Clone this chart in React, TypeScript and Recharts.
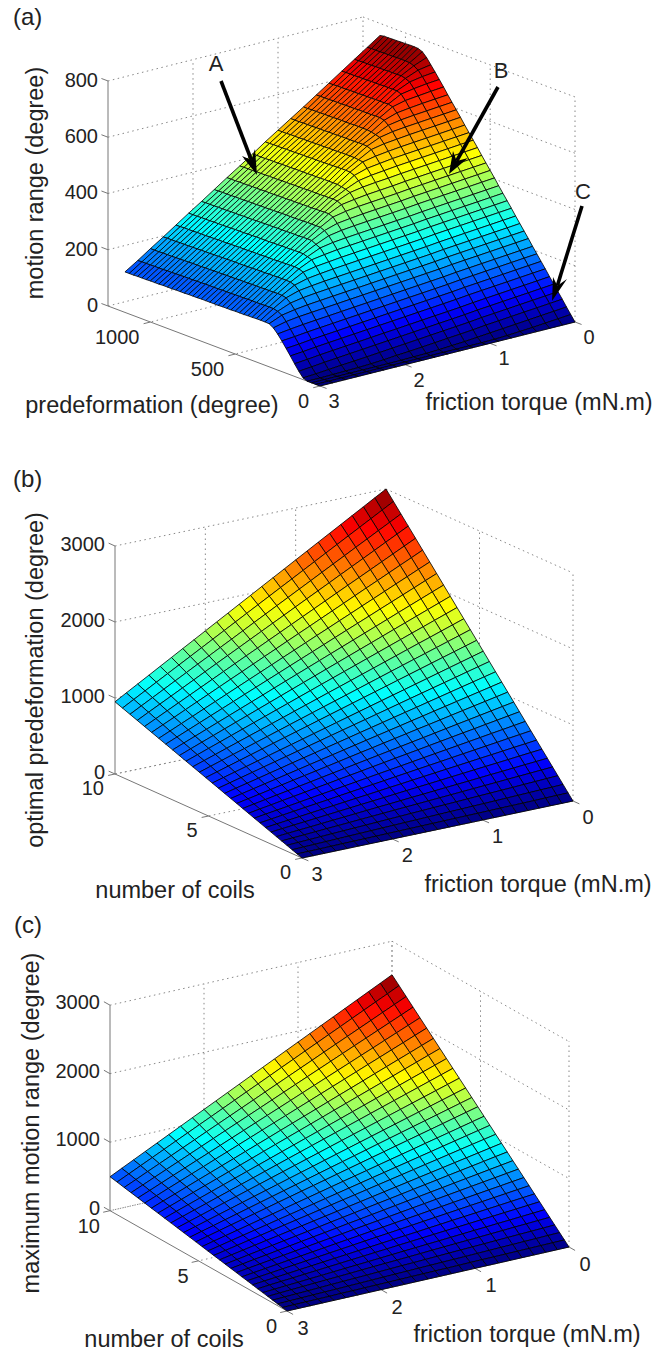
import { ReferenceLine, Scatter, ScatterChart, XAxis, YAxis } from 'recharts'

const torqueA = [0, 0.15, 0.3, 0.45, 0.6, 0.75, 0.9, 1.05, 1.2, 1.35, 1.5, 1.65, 1.8, 1.95, 2.1, 2.25, 2.4, 2.55, 2.7, 2.85, 3]
const predefA = [0, 25, 50, 75, 100, 125, 150, 175, 200, 225, 250, 275, 300, 325, 350, 375, 400, 425, 450, 475, 500, 525, 550, 575, 600, 625, 650, 675, 700, 725, 750, 775, 800, 825, 850, 875, 900, 925, 950, 975, 1000, 1025, 1050, 1075, 1100, 1125, 1150]
// one row per predeformation, one column per friction torque
const rangeA = [
  [0, 0, 0, 0, 0, 0, 0, 0, 0, 0, 0, 0, 0, 0, 0, 0, 0, 0, 0, 0, 0],
  [21, 17, 13, 9, 6, 3, 1, 0, 0, 0, 0, 0, 0, 0, 0, 0, 0, 0, 0, 0, 0],
  [42, 38, 34, 30, 26, 22, 18, 14, 10, 7, 4, 2, 1, 0, 0, 0, 0, 0, 0, 0, 0],
  [64, 60, 56, 52, 48, 44, 40, 35, 31, 27, 23, 19, 15, 12, 8, 5, 3, 2, 1, 0, 0],
  [85, 81, 77, 73, 69, 65, 61, 56, 52, 48, 44, 40, 36, 32, 28, 24, 20, 17, 13, 9, 6],
  [106, 102, 98, 94, 90, 86, 82, 77, 73, 69, 65, 61, 57, 53, 49, 45, 41, 37, 33, 28, 24],
  [127, 123, 119, 115, 111, 107, 103, 98, 94, 90, 86, 82, 78, 74, 70, 66, 62, 58, 54, 49, 45],
  [149, 145, 141, 137, 133, 129, 125, 120, 116, 112, 108, 104, 100, 96, 92, 88, 84, 80, 76, 71, 67],
  [170, 166, 162, 158, 154, 150, 146, 141, 137, 133, 129, 125, 121, 117, 113, 109, 105, 101, 97, 92, 88],
  [191, 187, 183, 179, 175, 171, 167, 162, 158, 154, 150, 146, 142, 138, 134, 130, 126, 122, 118, 113, 109],
  [212, 208, 204, 200, 196, 192, 188, 183, 179, 175, 171, 167, 163, 159, 155, 151, 147, 143, 139, 134, 128],
  [234, 230, 226, 222, 218, 214, 210, 205, 201, 197, 193, 189, 185, 181, 177, 173, 169, 165, 161, 155, 144],
  [255, 251, 247, 243, 239, 235, 231, 226, 222, 218, 214, 210, 206, 202, 198, 194, 190, 186, 180, 172, 153],
  [276, 272, 268, 264, 260, 256, 252, 247, 243, 239, 235, 231, 227, 223, 219, 215, 211, 206, 198, 180, 154],
  [297, 293, 289, 285, 281, 277, 273, 268, 264, 260, 256, 252, 248, 244, 240, 236, 231, 225, 211, 184, 154],
  [319, 315, 311, 307, 303, 299, 295, 290, 286, 282, 278, 274, 270, 266, 262, 257, 251, 239, 214, 184, 154],
  [340, 336, 332, 328, 324, 320, 316, 311, 307, 303, 299, 295, 291, 287, 282, 277, 268, 244, 215, 184, 153],
  [361, 357, 353, 349, 345, 341, 337, 332, 328, 324, 320, 316, 312, 308, 302, 295, 274, 245, 214, 183, 153],
  [382, 378, 374, 370, 366, 362, 358, 353, 349, 345, 341, 337, 333, 328, 320, 300, 276, 245, 214, 183, 152],
  [404, 400, 396, 392, 388, 384, 380, 375, 371, 367, 363, 359, 354, 346, 327, 305, 275, 245, 214, 183, 152],
  [425, 421, 417, 413, 409, 405, 401, 396, 392, 388, 384, 379, 373, 359, 335, 305, 275, 244, 213, 183, 152],
  [446, 442, 438, 434, 430, 426, 422, 417, 413, 409, 405, 399, 390, 365, 335, 305, 274, 244, 213, 182, 151],
  [467, 463, 459, 455, 451, 447, 443, 438, 434, 430, 424, 417, 396, 365, 335, 304, 274, 243, 213, 182, 151],
  [489, 485, 481, 477, 473, 469, 465, 460, 456, 451, 443, 424, 396, 365, 334, 304, 273, 243, 212, 182, 151],
  [510, 506, 502, 498, 494, 490, 486, 481, 476, 468, 449, 426, 395, 365, 334, 304, 273, 243, 212, 181, 150],
  [531, 527, 523, 519, 515, 511, 507, 501, 495, 481, 452, 425, 395, 364, 334, 303, 273, 242, 212, 181, 150],
  [552, 548, 544, 540, 536, 532, 527, 521, 512, 487, 455, 425, 394, 364, 333, 303, 272, 242, 211, 181, 150],
  [574, 570, 566, 562, 558, 553, 548, 539, 514, 488, 455, 424, 394, 363, 333, 302, 272, 241, 211, 180, 150],
  [595, 591, 587, 583, 579, 574, 565, 545, 516, 488, 455, 424, 394, 363, 333, 302, 272, 241, 211, 180, 150],
  [616, 612, 608, 604, 599, 591, 569, 546, 516, 487, 455, 424, 393, 363, 332, 302, 271, 241, 210, 180, 149],
  [637, 633, 629, 624, 618, 603, 573, 546, 516, 487, 454, 424, 393, 363, 332, 302, 271, 241, 210, 180, 149],
  [659, 655, 650, 645, 634, 607, 575, 545, 516, 486, 454, 423, 393, 362, 332, 301, 271, 240, 210, 179, 149],
  [680, 676, 670, 662, 638, 607, 575, 545, 515, 486, 454, 423, 392, 362, 331, 301, 270, 240, 209, 179, 148],
  [701, 696, 688, 668, 637, 606, 575, 545, 515, 485, 453, 423, 392, 361, 331, 300, 270, 239, 209, 178, 148],
  [721, 713, 695, 668, 637, 606, 575, 545, 515, 485, 453, 422, 392, 361, 330, 300, 269, 239, 208, 178, 148],
  [741, 723, 699, 668, 637, 606, 574, 544, 514, 485, 453, 422, 391, 361, 330, 300, 269, 238, 208, 178, 147],
  [756, 728, 698, 668, 636, 606, 574, 544, 514, 484, 453, 422, 391, 360, 330, 299, 269, 238, 208, 177, 147],
  [762, 729, 698, 667, 636, 605, 574, 544, 514, 484, 452, 421, 391, 360, 329, 299, 268, 238, 207, 177, 147],
  [763, 729, 698, 667, 636, 605, 574, 543, 513, 484, 452, 421, 390, 360, 329, 298, 268, 237, 207, 176, 146],
  [763, 729, 697, 667, 635, 605, 573, 543, 513, 483, 452, 421, 390, 359, 329, 298, 267, 237, 206, 176, 146],
  [762, 728, 697, 666, 635, 604, 573, 543, 513, 483, 451, 420, 390, 359, 328, 298, 267, 236, 206, 175, 146],
  [762, 728, 697, 666, 635, 604, 573, 542, 512, 483, 451, 420, 389, 359, 328, 297, 267, 236, 205, 175, 145],
  [761, 728, 696, 666, 634, 604, 572, 542, 512, 482, 451, 420, 389, 358, 328, 297, 266, 236, 205, 175, 145],
  [761, 727, 696, 665, 634, 603, 572, 542, 512, 482, 450, 419, 389, 358, 327, 297, 266, 235, 205, 174, 145],
  [760, 727, 696, 665, 634, 603, 572, 541, 511, 482, 450, 419, 388, 358, 327, 296, 266, 235, 204, 174, 144],
  [760, 727, 695, 665, 633, 603, 571, 541, 511, 481, 450, 419, 388, 357, 327, 296, 265, 235, 204, 174, 144],
  [757, 726, 695, 664, 633, 602, 571, 541, 511, 481, 449, 418, 388, 357, 326, 296, 265, 234, 204, 173, 144],
]

const torqueBC = [0, 0.125, 0.25, 0.375, 0.5, 0.625, 0.75, 0.875, 1, 1.125, 1.25, 1.375, 1.5, 1.625, 1.75, 1.875, 2, 2.125, 2.25, 2.375, 2.5, 2.625, 2.75, 2.875, 3]
const coilsBC = [0, 0.26, 0.53, 0.81, 1.09, 1.37, 1.66, 1.95, 2.25, 2.55, 2.86, 3.17, 3.49, 3.81, 4.14, 4.47, 4.8, 5.15, 5.49, 5.84, 6.2, 6.56, 6.92, 7.29, 7.66, 8.04, 8.42, 8.81, 9.2, 9.6, 10]
const optimalB = [
  [0, 0, 0, 0, 0, 0, 0, 0, 0, 0, 0, 0, 0, 0, 0, 0, 0, 0, 0, 0, 0, 0, 0, 0, 0],
  [78, 76, 74, 71, 69, 67, 65, 62, 60, 58, 56, 54, 51, 49, 47, 45, 43, 40, 38, 36, 34, 32, 29, 27, 25],
  [159, 154, 150, 145, 141, 136, 132, 127, 123, 118, 114, 109, 105, 100, 96, 91, 87, 82, 78, 73, 68, 64, 59, 55, 50],
  [243, 236, 229, 222, 215, 208, 201, 195, 188, 181, 174, 167, 160, 153, 146, 139, 132, 125, 118, 112, 105, 98, 91, 84, 77],
  [327, 318, 308, 299, 290, 280, 271, 262, 253, 243, 234, 225, 215, 206, 197, 187, 178, 169, 159, 150, 141, 131, 122, 113, 104],
  [411, 399, 388, 376, 364, 353, 341, 329, 317, 306, 294, 282, 271, 259, 247, 236, 224, 212, 200, 189, 177, 165, 154, 142, 130],
  [498, 484, 470, 455, 441, 427, 413, 399, 385, 370, 356, 342, 328, 314, 299, 285, 271, 257, 243, 229, 214, 200, 186, 172, 158],
  [585, 568, 552, 535, 518, 502, 485, 468, 452, 435, 419, 402, 385, 369, 352, 335, 319, 302, 285, 269, 252, 235, 219, 202, 185],
  [675, 656, 637, 617, 598, 579, 560, 541, 521, 502, 483, 464, 445, 425, 406, 387, 368, 349, 329, 310, 291, 272, 253, 233, 214],
  [765, 743, 721, 700, 678, 656, 634, 612, 591, 569, 547, 525, 503, 482, 460, 438, 416, 394, 373, 351, 329, 307, 285, 264, 242],
  [858, 834, 809, 785, 760, 736, 712, 687, 663, 638, 614, 590, 565, 541, 516, 492, 468, 443, 419, 394, 370, 346, 321, 297, 272],
  [951, 924, 897, 870, 843, 816, 789, 761, 734, 707, 680, 653, 626, 599, 572, 545, 518, 491, 464, 437, 410, 383, 356, 329, 301],
  [1047, 1017, 987, 958, 928, 898, 868, 838, 809, 779, 749, 719, 689, 660, 630, 600, 570, 540, 511, 481, 451, 421, 391, 362, 332],
  [1143, 1110, 1078, 1045, 1013, 980, 948, 915, 883, 850, 818, 785, 753, 720, 687, 655, 622, 590, 557, 525, 492, 460, 427, 395, 362],
  [1242, 1207, 1171, 1136, 1101, 1065, 1030, 994, 959, 924, 888, 853, 818, 782, 747, 712, 676, 641, 606, 570, 535, 499, 464, 429, 393],
  [1341, 1303, 1265, 1226, 1188, 1150, 1112, 1074, 1036, 997, 959, 921, 883, 845, 807, 768, 730, 692, 654, 616, 578, 539, 501, 463, 425],
  [1440, 1399, 1358, 1317, 1276, 1235, 1194, 1153, 1112, 1071, 1030, 989, 948, 907, 866, 825, 784, 743, 702, 661, 620, 579, 538, 497, 456],
  [1545, 1501, 1457, 1413, 1369, 1325, 1281, 1237, 1193, 1149, 1105, 1061, 1017, 973, 929, 885, 841, 797, 753, 709, 665, 621, 577, 533, 489],
  [1647, 1600, 1553, 1506, 1459, 1413, 1366, 1319, 1272, 1225, 1178, 1131, 1084, 1038, 991, 944, 897, 850, 803, 756, 709, 663, 616, 569, 522],
  [1752, 1702, 1652, 1602, 1553, 1503, 1453, 1403, 1353, 1303, 1253, 1203, 1154, 1104, 1054, 1004, 954, 904, 854, 805, 755, 705, 655, 605, 555],
  [1860, 1807, 1754, 1701, 1648, 1595, 1542, 1489, 1436, 1383, 1330, 1278, 1225, 1172, 1119, 1066, 1013, 960, 907, 854, 801, 748, 695, 642, 589],
  [1968, 1912, 1856, 1800, 1744, 1688, 1632, 1576, 1520, 1464, 1408, 1352, 1296, 1240, 1184, 1128, 1072, 1016, 960, 904, 848, 792, 736, 680, 623],
  [2076, 2017, 1958, 1899, 1840, 1780, 1721, 1662, 1603, 1544, 1485, 1426, 1367, 1308, 1249, 1190, 1130, 1071, 1012, 953, 894, 835, 776, 717, 658],
  [2187, 2125, 2062, 2000, 1938, 1876, 1813, 1751, 1689, 1627, 1564, 1502, 1440, 1378, 1315, 1253, 1191, 1129, 1066, 1004, 942, 880, 817, 755, 693],
  [2298, 2233, 2167, 2102, 2036, 1971, 1906, 1840, 1775, 1709, 1644, 1578, 1513, 1448, 1382, 1317, 1251, 1186, 1120, 1055, 990, 924, 859, 793, 728],
  [2412, 2343, 2275, 2206, 2137, 2069, 2000, 1931, 1863, 1794, 1725, 1657, 1588, 1519, 1451, 1382, 1313, 1245, 1176, 1107, 1039, 970, 901, 833, 764],
  [2526, 2454, 2382, 2310, 2238, 2166, 2095, 2023, 1951, 1879, 1807, 1735, 1663, 1591, 1519, 1448, 1376, 1304, 1232, 1160, 1088, 1016, 944, 872, 800],
  [2643, 2568, 2493, 2417, 2342, 2267, 2192, 2116, 2041, 1966, 1891, 1815, 1740, 1665, 1590, 1514, 1439, 1364, 1289, 1213, 1138, 1063, 988, 913, 837],
  [2760, 2681, 2603, 2524, 2446, 2367, 2289, 2210, 2131, 2053, 1974, 1896, 1817, 1739, 1660, 1581, 1503, 1424, 1346, 1267, 1189, 1110, 1031, 953, 874],
  [2880, 2798, 2716, 2634, 2552, 2470, 2388, 2306, 2224, 2142, 2060, 1978, 1896, 1814, 1732, 1650, 1568, 1486, 1404, 1322, 1240, 1158, 1076, 994, 912],
  [3000, 2915, 2829, 2744, 2658, 2573, 2488, 2402, 2317, 2231, 2146, 2061, 1975, 1890, 1804, 1719, 1633, 1548, 1463, 1377, 1292, 1206, 1121, 1036, 950],
]
const maximumC = [
  [0, 0, 0, 0, 0, 0, 0, 0, 0, 0, 0, 0, 0, 0, 0, 0, 0, 0, 0, 0, 0, 0, 0, 0, 0],
  [65, 63, 61, 59, 56, 54, 52, 50, 48, 45, 43, 41, 39, 37, 34, 32, 30, 28, 26, 24, 21, 19, 17, 15, 13],
  [133, 129, 124, 120, 115, 111, 106, 102, 97, 93, 89, 84, 80, 75, 71, 66, 62, 57, 53, 48, 44, 40, 35, 31, 26],
  [203, 196, 189, 183, 176, 169, 162, 155, 149, 142, 135, 128, 121, 115, 108, 101, 94, 87, 81, 74, 67, 60, 53, 47, 40],
  [274, 265, 256, 247, 237, 228, 219, 210, 201, 192, 183, 173, 164, 155, 146, 137, 128, 118, 109, 100, 91, 82, 73, 64, 54],
  [344, 332, 321, 309, 298, 286, 275, 263, 252, 240, 229, 217, 206, 194, 183, 171, 160, 148, 137, 125, 114, 102, 91, 79, 68],
  [417, 403, 389, 375, 361, 347, 333, 319, 306, 292, 278, 264, 250, 236, 222, 208, 194, 180, 166, 152, 138, 124, 111, 97, 82],
  [489, 473, 457, 440, 424, 407, 391, 375, 358, 342, 325, 309, 293, 276, 260, 244, 227, 211, 194, 178, 162, 145, 129, 113, 97],
  [565, 546, 527, 508, 489, 471, 452, 433, 414, 395, 376, 357, 338, 320, 301, 282, 263, 244, 225, 206, 187, 168, 150, 131, 112],
  [640, 619, 597, 576, 554, 533, 512, 490, 469, 447, 426, 405, 383, 362, 340, 319, 298, 276, 255, 233, 212, 191, 169, 148, 126],
  [718, 694, 670, 646, 622, 598, 574, 550, 526, 502, 478, 454, 430, 406, 382, 358, 334, 310, 286, 262, 238, 214, 190, 166, 142],
  [796, 769, 743, 716, 690, 663, 636, 610, 583, 557, 530, 503, 477, 450, 424, 397, 370, 344, 317, 291, 264, 237, 211, 184, 157],
  [876, 847, 817, 788, 759, 730, 700, 671, 642, 612, 583, 554, 525, 495, 466, 437, 407, 378, 349, 320, 290, 261, 232, 202, 173],
  [956, 924, 892, 860, 828, 796, 764, 732, 700, 668, 636, 604, 572, 540, 508, 476, 444, 412, 381, 349, 317, 285, 253, 221, 189],
  [1039, 1004, 970, 935, 900, 865, 831, 796, 761, 726, 692, 657, 622, 588, 553, 518, 483, 449, 414, 379, 344, 310, 275, 240, 205],
  [1122, 1084, 1047, 1009, 972, 934, 897, 859, 822, 784, 747, 709, 672, 634, 597, 559, 522, 484, 447, 409, 372, 334, 297, 259, 222],
  [1205, 1165, 1124, 1084, 1044, 1004, 963, 923, 883, 843, 802, 762, 722, 682, 641, 601, 561, 520, 480, 440, 400, 359, 319, 279, 238],
  [1293, 1250, 1207, 1163, 1120, 1077, 1034, 991, 947, 904, 861, 818, 775, 731, 688, 645, 602, 559, 515, 472, 429, 386, 343, 299, 256],
  [1378, 1332, 1286, 1240, 1194, 1148, 1102, 1056, 1010, 963, 917, 871, 825, 779, 733, 687, 641, 595, 549, 503, 457, 411, 365, 319, 273],
  [1466, 1417, 1368, 1319, 1270, 1221, 1172, 1123, 1074, 1025, 976, 927, 878, 829, 780, 731, 682, 633, 584, 535, 486, 437, 388, 339, 290],
  [1556, 1504, 1452, 1400, 1348, 1296, 1244, 1192, 1140, 1088, 1036, 984, 932, 880, 828, 776, 724, 672, 620, 568, 516, 464, 412, 360, 308],
  [1647, 1592, 1537, 1482, 1427, 1372, 1317, 1262, 1207, 1152, 1097, 1042, 987, 932, 877, 822, 766, 711, 656, 601, 546, 491, 436, 381, 326],
  [1737, 1679, 1621, 1563, 1505, 1447, 1389, 1331, 1273, 1214, 1156, 1098, 1040, 982, 924, 866, 808, 750, 692, 634, 576, 518, 460, 402, 343],
  [1830, 1769, 1708, 1647, 1585, 1524, 1463, 1402, 1341, 1280, 1218, 1157, 1096, 1035, 974, 913, 851, 790, 729, 668, 607, 546, 484, 423, 362],
  [1923, 1859, 1794, 1730, 1666, 1602, 1537, 1473, 1409, 1345, 1280, 1216, 1152, 1088, 1023, 959, 895, 830, 766, 702, 638, 573, 509, 445, 380],
  [2018, 1951, 1883, 1816, 1748, 1681, 1613, 1546, 1478, 1411, 1343, 1276, 1208, 1141, 1074, 1006, 939, 871, 804, 736, 669, 601, 534, 466, 399],
  [2113, 2042, 1972, 1901, 1830, 1760, 1689, 1618, 1548, 1477, 1407, 1336, 1265, 1195, 1124, 1053, 983, 912, 841, 771, 700, 630, 559, 488, 418],
  [2211, 2137, 2063, 1989, 1915, 1842, 1768, 1694, 1620, 1546, 1472, 1398, 1324, 1250, 1176, 1102, 1029, 955, 881, 807, 733, 659, 585, 511, 437],
  [2309, 2232, 2155, 2077, 2000, 1923, 1846, 1769, 1691, 1614, 1537, 1460, 1383, 1305, 1228, 1151, 1074, 997, 919, 842, 765, 688, 611, 533, 456],
  [2410, 2329, 2249, 2168, 2088, 2007, 1927, 1846, 1766, 1685, 1605, 1524, 1443, 1363, 1282, 1202, 1121, 1041, 960, 880, 799, 718, 638, 557, 477],
  [2510, 2426, 2342, 2258, 2174, 2090, 2007, 1923, 1839, 1755, 1671, 1587, 1503, 1419, 1335, 1251, 1167, 1084, 1000, 916, 832, 748, 664, 580, 496],
]

const WIDTH = 658
const HEIGHT = 1355
const FONT = '"Liberation Sans", Arial, sans-serif'

type Pt = { x: number; y: number }
type View = {
  right: Pt; front: Pt; left: Pt; zPx: number
  tMax: number; sMax: number; zMax: number
  tTicks: number[]; sTicks: number[]; zTicks: number[]
  zDy: number; tOff: Pt; sOff: Pt
  torque: number[]; side: number[]; table: number[][]
}

const viewA: View = {
  right: { x: 575, y: 322 }, front: { x: 320, y: 386 }, left: { x: 108, y: 306 }, zPx: 0.2813,
  tMax: 3, sMax: 1250, zMax: 764,
  tTicks: [0, 1, 2, 3], sTicks: [0, 500, 1000], zTicks: [0, 200, 400, 600, 800],
  zDy: -1, tOff: { x: 14, y: 15 }, sOff: { x: -11, y: 15 },
  torque: torqueA, side: predefA, table: rangeA,
}
const viewB: View = {
  right: { x: 573, y: 801 }, front: { x: 302, y: 858 }, left: { x: 115, y: 774 }, zPx: 0.076,
  tMax: 3, sMax: 10, zMax: 3000,
  tTicks: [0, 1, 2, 3], sTicks: [0, 5, 10], zTicks: [0, 1000, 2000, 3000],
  zDy: -2, tOff: { x: 15, y: 16 }, sOff: { x: -11, y: 14 },
  torque: torqueBC, side: coilsBC, table: optimalB,
}
const viewC: View = {
  right: { x: 569, y: 1247 }, front: { x: 287, y: 1311 }, left: { x: 110, y: 1210.7 }, zPx: 0.0685,
  tMax: 3, sMax: 10, zMax: 2510,
  tTicks: [0, 1, 2, 3], sTicks: [0, 5, 10], zTicks: [0, 1000, 2000, 3000],
  zDy: -3, tOff: { x: 16, y: 17 }, sOff: { x: -10, y: 15 },
  torque: torqueBC, side: coilsBC, table: maximumC,
}

// orthographic projection, the three floor corners fix the axes
const project = (v: View, t: number, s: number, z: number): Pt => {
  const a = t / v.tMax
  const b = s / v.sMax
  return {
    x: v.right.x + a * (v.front.x - v.right.x) + b * (v.left.x - v.front.x),
    y: v.right.y + a * (v.front.y - v.right.y) + b * (v.left.y - v.front.y) - z * v.zPx,
  }
}

const jet = (f: number) => {
  const c = (d: number) => Math.round(255 * Math.max(0, Math.min(1, 1.5 - Math.abs(4 * f - d))))
  return `rgb(${c(3)},${c(2)},${c(1)})`
}

const buildCells = (v: View) => {
  const cells = []
  for (let i = v.side.length - 2; i >= 0; i--) {
    for (let j = 0; j < v.torque.length - 1; j++) {
      const corners = [[i, j], [i, j + 1], [i + 1, j + 1], [i + 1, j]]
      const pts = corners.map(([a, b]) => project(v, v.torque[b], v.side[a], v.table[a][b]))
      const zs = corners.map(([a, b]) => v.table[a][b])
      const x = pts.reduce((n, p) => n + p.x, 0) / 4
      const y = pts.reduce((n, p) => n + p.y, 0) / 4
      cells.push({
        x, y,
        offsets: pts.map((p) => [p.x - x, p.y - y]),
        color: jet(zs.reduce((n, z) => n + z, 0) / 4 / v.zMax),
      })
    }
  }
  return cells
}

const CellShape = (props: any) => {
  const { cx, cy, payload } = props
  const points = payload.offsets.map(([dx, dy]: number[]) => `${(cx + dx).toFixed(2)},${(cy + dy).toFixed(2)}`)
  return <polygon points={points.join(' ')} fill={payload.color} stroke="#000" strokeOpacity={0.85} strokeWidth={0.95} />
}

const LabelShape = (props: any) => {
  const { cx, cy, payload } = props
  return (
    <text x={cx} y={cy} textAnchor={payload.anchor} dominantBaseline="central" fontSize={20} fontFamily={FONT} fill="#222">
      {payload.label}
    </text>
  )
}

const ArrowShape = (props: any) => {
  const { cx, cy, payload } = props
  const at = ([px, py]: number[]) => [cx + px - payload.x, cy + py - payload.y]
  const tail = at(payload.tail)
  const b1 = at(payload.barbs[0])
  const b2 = at(payload.barbs[1])
  const notch = [(cx + b1[0] + b2[0]) / 3, (cy + b1[1] + b2[1]) / 3]
  return (
    <g>
      <line x1={tail[0]} y1={tail[1]} x2={notch[0]} y2={notch[1]} stroke="#000" strokeWidth={3.6} />
      <polygon points={`${cx},${cy} ${b1.join(',')} ${notch.join(',')} ${b2.join(',')}`} fill="#000" />
    </g>
  )
}

const dottedSegments = (v: View) => {
  const segs: Pt[][] = []
  const top = v.zTicks[v.zTicks.length - 1]
  v.zTicks.forEach((z) => {
    segs.push([project(v, v.tMax, v.sMax, z), project(v, 0, v.sMax, z)])
    segs.push([project(v, 0, v.sMax, z), project(v, 0, 0, z)])
  })
  v.tTicks.filter((t) => t < v.tMax).forEach((t) => {
    segs.push([project(v, t, v.sMax, 0), project(v, t, v.sMax, top)])
    segs.push([project(v, t, 0, 0), project(v, t, v.sMax, 0)])
  })
  v.sTicks.forEach((s) => {
    segs.push([project(v, 0, s, 0), project(v, 0, s, top)])
    segs.push([project(v, 0, s, 0), project(v, v.tMax, s, 0)])
  })
  return segs
}

const solidSegments = (v: View) => {
  const top = v.zTicks[v.zTicks.length - 1]
  const segs: Pt[][] = [
    [project(v, v.tMax, 0, 0), project(v, v.tMax, v.sMax, 0)],
    [project(v, v.tMax, 0, 0), project(v, 0, 0, 0)],
    [project(v, v.tMax, v.sMax, 0), project(v, v.tMax, v.sMax, top)],
  ]
  const len = 7
  const sDir = { x: v.left.x - v.front.x, y: v.left.y - v.front.y }
  const sn = Math.hypot(sDir.x, sDir.y)
  const tDir = { x: v.front.x - v.right.x, y: v.front.y - v.right.y }
  const tn = Math.hypot(tDir.x, tDir.y)
  v.zTicks.forEach((z) => {
    const p = project(v, v.tMax, v.sMax, z)
    segs.push([p, { x: p.x + (sDir.x / sn) * len, y: p.y + (sDir.y / sn) * len }])
  })
  v.tTicks.forEach((t) => {
    const p = project(v, t, 0, 0)
    segs.push([p, { x: p.x - (sDir.x / sn) * len, y: p.y - (sDir.y / sn) * len }])
  })
  v.sTicks.forEach((s) => {
    const p = project(v, v.tMax, s, 0)
    segs.push([p, { x: p.x + (tDir.x / tn) * len, y: p.y + (tDir.y / tn) * len }])
  })
  return segs
}

const tickLabels = (v: View) => [
  ...v.zTicks.map((z) => {
    const p = project(v, v.tMax, v.sMax, z)
    return { x: p.x - 10, y: p.y + v.zDy, label: z, anchor: 'end' }
  }),
  ...v.sTicks.map((s) => {
    const p = project(v, v.tMax, s, 0)
    return { x: p.x + v.sOff.x, y: p.y + v.sOff.y, label: s, anchor: 'end' }
  }),
  ...v.tTicks.map((t) => {
    const p = project(v, t, 0, 0)
    return { x: p.x + v.tOff.x, y: p.y + v.tOff.y, label: t, anchor: 'middle' }
  }),
]

const views = [viewA, viewB, viewC]

const arrows = [
  { x: 257, y: 175, tail: [221, 81], barbs: [[242, 156], [255, 149]] },
  { x: 449, y: 174, tail: [498, 87], barbs: [[453, 151], [468, 158]] },
  { x: 552, y: 301, tail: [582, 206], barbs: [[553, 277], [567, 279]] },
]
const callouts = [
  { text: 'A', x: 216, y: 71 },
  { text: 'B', x: 501, y: 78 },
  { text: 'C', x: 583, y: 199 },
]
const panelTags = [
  { text: '(a)', x: 13, y: 25 },
  { text: '(b)', x: 13, y: 487 },
  { text: '(c)', x: 14, y: 933 },
]
const flatTitles = [
  { text: 'predeformation (degree)', x: 152, y: 413 },
  { text: 'friction torque (mN.m)', x: 539, y: 410 },
  { text: 'number of coils', x: 175, y: 898 },
  { text: 'friction torque (mN.m)', x: 538, y: 892 },
  { text: 'number of coils', x: 164, y: 1347 },
  { text: 'friction torque (mN.m)', x: 527, y: 1342 },
]
const sideTitles = [
  { text: 'motion range (degree)', x: 43, y: 183 },
  { text: 'optimal predeformation (degree)', x: 43, y: 680 },
  { text: 'maximum motion range (degree)', x: 39, y: 1123 },
]

export default function App() {
  return (
    <div style={{ position: 'absolute', left: 0, top: 0, width: WIDTH, height: HEIGHT, background: '#fff' }}>
      <ScatterChart width={WIDTH} height={HEIGHT} margin={{ top: 0, right: 0, bottom: 0, left: 0 }}>
        <XAxis type="number" dataKey="x" domain={[0, WIDTH]} hide allowDataOverflow />
        <YAxis type="number" dataKey="y" domain={[0, HEIGHT]} reversed hide allowDataOverflow />
        {views.flatMap((v, n) =>
          dottedSegments(v).map((seg, i) => (
            <ReferenceLine key={`d${n}-${i}`} segment={seg} stroke="#888" strokeWidth={1} strokeDasharray="1.5 3.5" />
          )),
        )}
        {views.flatMap((v, n) =>
          solidSegments(v).map((seg, i) => (
            <ReferenceLine key={`s${n}-${i}`} segment={seg} stroke="#777" strokeWidth={1} />
          )),
        )}
        {views.map((v, n) => (
          <Scatter key={`c${n}`} data={buildCells(v)} shape={CellShape} isAnimationActive={false} />
        ))}
        {views.map((v, n) => (
          <Scatter key={`l${n}`} data={tickLabels(v)} shape={LabelShape} isAnimationActive={false} />
        ))}
        <Scatter data={arrows} shape={ArrowShape} isAnimationActive={false} />
        {callouts.map((c) => (
          <text key={c.text} x={c.x} y={c.y} textAnchor="middle" fontSize={22} fontFamily={FONT} fill="#222">{c.text}</text>
        ))}
        {panelTags.map((c) => (
          <text key={c.text} x={c.x} y={c.y} fontSize={24} fontFamily={FONT} fill="#222">{c.text}</text>
        ))}
        {flatTitles.map((c, i) => (
          <text key={`f${i}`} x={c.x} y={c.y} textAnchor="middle" fontSize={23.5} fontFamily={FONT} fill="#222">{c.text}</text>
        ))}
        {sideTitles.map((c, i) => (
          <text key={`r${i}`} transform={`translate(${c.x},${c.y}) rotate(-90)`} textAnchor="middle" fontSize={23.5} fontFamily={FONT} fill="#222">{c.text}</text>
        ))}
      </ScatterChart>
    </div>
  )
}
